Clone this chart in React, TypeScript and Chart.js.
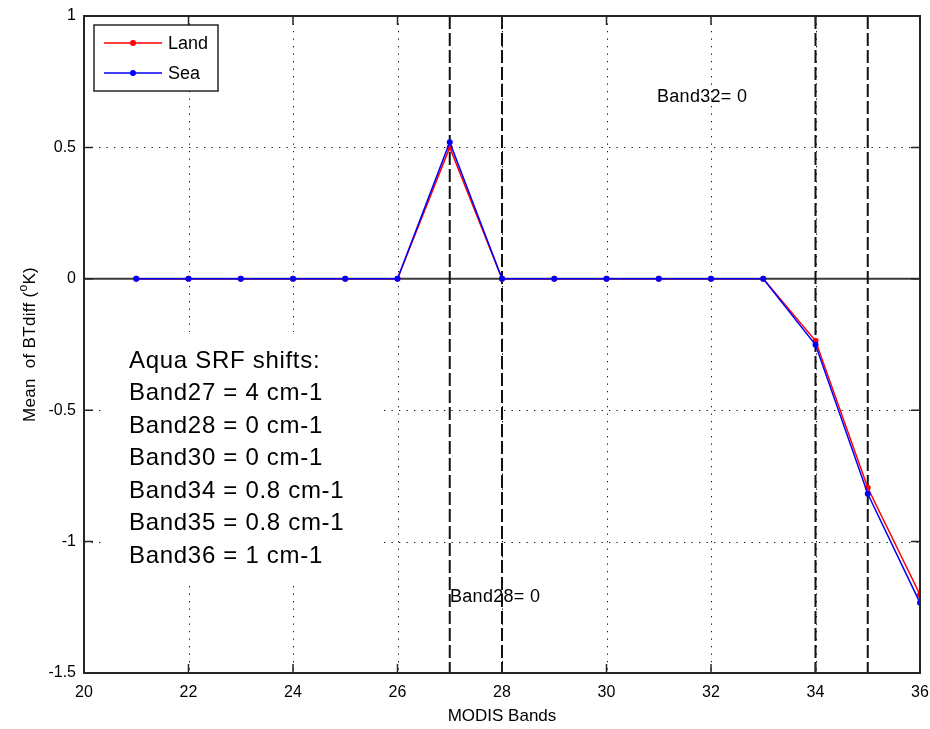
import React, { useEffect, useRef } from "react";
import { Chart, registerables } from "chart.js";

Chart.register(...registerables);

const bands = [21, 22, 23, 24, 25, 26, 27, 28, 29, 30, 31, 32, 33, 34, 35, 36];
const landValues = [0, 0, 0, 0, 0, 0, 0.5, 0, 0, 0, 0, 0, 0, -0.236, -0.795, -1.202];
const seaValues = [0, 0, 0, 0, 0, 0, 0.52, 0, 0, 0, 0, 0, 0, -0.251, -0.818, -1.233];
const dashedBands = [27, 28, 34, 35];
const xGridTicks = [22, 24, 26, 28, 30, 32, 34];
const yGridTicks = [-1, -0.5, 0.5];
const shiftLines = [
  "Aqua SRF shifts:",
  "Band27 = 4 cm-1",
  "Band28 = 0 cm-1",
  "Band30 = 0 cm-1",
  "Band34 = 0.8 cm-1",
  "Band35 = 0.8 cm-1",
  "Band36 = 1 cm-1",
];
const seriesNames = ["Land", "Sea"];
const seriesColors = ["#ff0000", "#0000ff"];

const FONT = "Arial, 'Liberation Sans', Helvetica, sans-serif";

const matlabPlugin = {
  id: "matlabStyle",
  beforeDatasetsDraw(chart: any) {
    const { ctx, chartArea: a, scales } = chart;
    const xs = scales.x;
    const ys = scales.y;
    ctx.save();
    // dotted grid
    ctx.strokeStyle = "#111111";
    ctx.lineWidth = 1;
    ctx.setLineDash([1.3, 6.2]);
    xGridTicks.forEach((v) => {
      const px = Math.round(xs.getPixelForValue(v)) + 0.5;
      ctx.beginPath();
      ctx.moveTo(px, a.top);
      ctx.lineTo(px, a.bottom);
      ctx.stroke();
    });
    yGridTicks.forEach((v) => {
      const py = Math.round(ys.getPixelForValue(v)) + 0.5;
      ctx.beginPath();
      ctx.moveTo(a.left, py);
      ctx.lineTo(a.right, py);
      ctx.stroke();
    });
    ctx.setLineDash([]);
    // white box behind annotation text
    ctx.fillStyle = "#ffffff";
    ctx.fillRect(105, 332, 275, 250);
    // zero line
    const y0 = ys.getPixelForValue(0);
    ctx.strokeStyle = "#3a3a3a";
    ctx.lineWidth = 2;
    ctx.beginPath();
    ctx.moveTo(a.left, y0);
    ctx.lineTo(a.right, y0);
    ctx.stroke();
    // dashed vertical lines
    ctx.strokeStyle = "#111111";
    ctx.lineWidth = 2;
    ctx.setLineDash([13, 4]);
    dashedBands.forEach((v) => {
      const px = xs.getPixelForValue(v);
      ctx.beginPath();
      ctx.moveTo(px, a.top);
      ctx.lineTo(px, a.bottom);
      ctx.stroke();
    });
    ctx.setLineDash([]);
    ctx.restore();
  },
  afterDatasetsDraw(chart: any) {
    const { ctx, chartArea: a, scales } = chart;
    const xs = scales.x;
    const ys = scales.y;
    ctx.save();
    // frame
    ctx.strokeStyle = "#262626";
    ctx.lineWidth = 2;
    ctx.strokeRect(a.left, a.top, a.right - a.left, a.bottom - a.top);
    // inner ticks
    const tl = 9;
    ctx.lineWidth = 1.5;
    for (let v = 20; v <= 36; v += 2) {
      const px = xs.getPixelForValue(v);
      ctx.beginPath();
      ctx.moveTo(px, a.bottom);
      ctx.lineTo(px, a.bottom - tl);
      ctx.moveTo(px, a.top);
      ctx.lineTo(px, a.top + tl);
      ctx.stroke();
    }
    for (let v = -1.5; v <= 1; v += 0.5) {
      const py = ys.getPixelForValue(v);
      ctx.beginPath();
      ctx.moveTo(a.left, py);
      ctx.lineTo(a.left + tl, py);
      ctx.moveTo(a.right, py);
      ctx.lineTo(a.right - tl, py);
      ctx.stroke();
    }
    // legend
    const lx = 94, ly = 25, lw = 124, lh = 66;
    ctx.fillStyle = "#ffffff";
    ctx.fillRect(lx, ly, lw, lh);
    ctx.strokeStyle = "#262626";
    ctx.lineWidth = 1.5;
    ctx.strokeRect(lx, ly, lw, lh);
    const rows = [43, 73];
    seriesNames.forEach((name, i) => {
      const yy = rows[i];
      ctx.strokeStyle = seriesColors[i];
      ctx.lineWidth = 1.5;
      ctx.beginPath();
      ctx.moveTo(104, yy);
      ctx.lineTo(162, yy);
      ctx.stroke();
      ctx.fillStyle = seriesColors[i];
      ctx.beginPath();
      ctx.arc(133, yy, 3, 0, Math.PI * 2);
      ctx.fill();
      ctx.fillStyle = "#000000";
      ctx.font = `18px ${FONT}`;
      ctx.textBaseline = "middle";
      ctx.textAlign = "left";
      ctx.fillText(name, 168, yy + 1);
    });
    // annotation texts
    ctx.fillStyle = "#000000";
    ctx.font = `24px ${FONT}`;
    ctx.letterSpacing = "0.7px";
    ctx.textBaseline = "middle";
    ctx.textAlign = "left";
    shiftLines.forEach((t, i) => {
      ctx.fillText(t, 129, 361 + i * 32.5);
    });
    ctx.font = `18px ${FONT}`;
    ctx.letterSpacing = "0.3px";
    ctx.fillText("Band32= 0", 657, 97);
    ctx.fillText("Band28= 0", 450, 597);
    // x title
    ctx.textAlign = "center";
    ctx.font = `17px ${FONT}`;
    ctx.letterSpacing = "0px";
    ctx.fillText("MODIS Bands", (a.left + a.right) / 2, 716);
    // y title with superscript
    ctx.translate(30, (a.top + a.bottom) / 2);
    ctx.rotate(-Math.PI / 2);
    const p1 = "Mean  of BTdiff (";
    const sup = "o";
    const p2 = "K)";
    ctx.letterSpacing = "0.3px";
    ctx.font = `17px ${FONT}`;
    const w1 = ctx.measureText(p1).width;
    const w2 = ctx.measureText(p2).width;
    ctx.font = `12px ${FONT}`;
    const ws = ctx.measureText(sup).width;
    const total = w1 + ws + w2;
    let x = -total / 2;
    ctx.textAlign = "left";
    ctx.font = `17px ${FONT}`;
    ctx.fillText(p1, x, 0);
    x += w1;
    ctx.font = `12px ${FONT}`;
    ctx.fillText(sup, x, -6);
    x += ws;
    ctx.font = `17px ${FONT}`;
    ctx.fillText(p2, x, 0);
    ctx.letterSpacing = "0px";
    ctx.restore();
  },
};

export default function App() {
  const canvasRef = useRef<HTMLCanvasElement | null>(null);
  useEffect(() => {
    const canvas = canvasRef.current;
    if (!canvas) return;
    const chart = new Chart(canvas, {
      type: "line",
      data: {
        datasets: [
          {
            label: seriesNames[0],
            data: bands.map((b, i) => ({ x: b, y: landValues[i] })),
            borderColor: seriesColors[0],
            backgroundColor: seriesColors[0],
            borderWidth: 1.5,
            pointRadius: 3,
            pointBorderWidth: 0,
            pointStyle: "circle",
            tension: 0,
            order: 1,
          },
          {
            label: seriesNames[1],
            data: bands.map((b, i) => ({ x: b, y: seaValues[i] })),
            borderColor: seriesColors[1],
            backgroundColor: seriesColors[1],
            borderWidth: 1.5,
            pointRadius: 3,
            pointBorderWidth: 0,
            pointStyle: "circle",
            tension: 0,
            order: 0,
          },
        ],
      },
      options: {
        responsive: false,
        animation: false,
        devicePixelRatio: 1,
        layout: { padding: { top: 16, right: 10, left: 0, bottom: 0 } },
        plugins: {
          legend: { display: false },
          tooltip: { enabled: false },
          title: { display: false },
        },
        scales: {
          x: {
            type: "linear",
            min: 20,
            max: 36,
            ticks: {
              stepSize: 2,
              color: "#000000",
              font: { size: 16, family: FONT },
              padding: 10,
              maxRotation: 0,
              callback: (v: any) => String(v),
            },
            grid: { display: false, drawTicks: false },
            border: { display: false },
            afterFit: (s: any) => {
              s.height = 56;
              s.paddingLeft = 0;
              s.paddingRight = 0;
            },
          },
          y: {
            type: "linear",
            min: -1.5,
            max: 1,
            ticks: {
              stepSize: 0.5,
              color: "#000000",
              font: { size: 16, family: FONT },
              padding: 8,
              callback: (v: any) => String(v),
            },
            grid: { display: false, drawTicks: false },
            border: { display: false },
            afterFit: (s: any) => {
              s.width = 84;
              s.paddingTop = 0;
              s.paddingBottom = 0;
            },
          },
        },
      },
      plugins: [matlabPlugin],
    });
    return () => chart.destroy();
  }, []);
  return (
    <div style={{ position: "fixed", left: 0, top: 0, width: 930, height: 729, background: "#ffffff" }}>
      <canvas ref={canvasRef} width={930} height={729} style={{ width: 930, height: 729 }} />
    </div>
  );
}
